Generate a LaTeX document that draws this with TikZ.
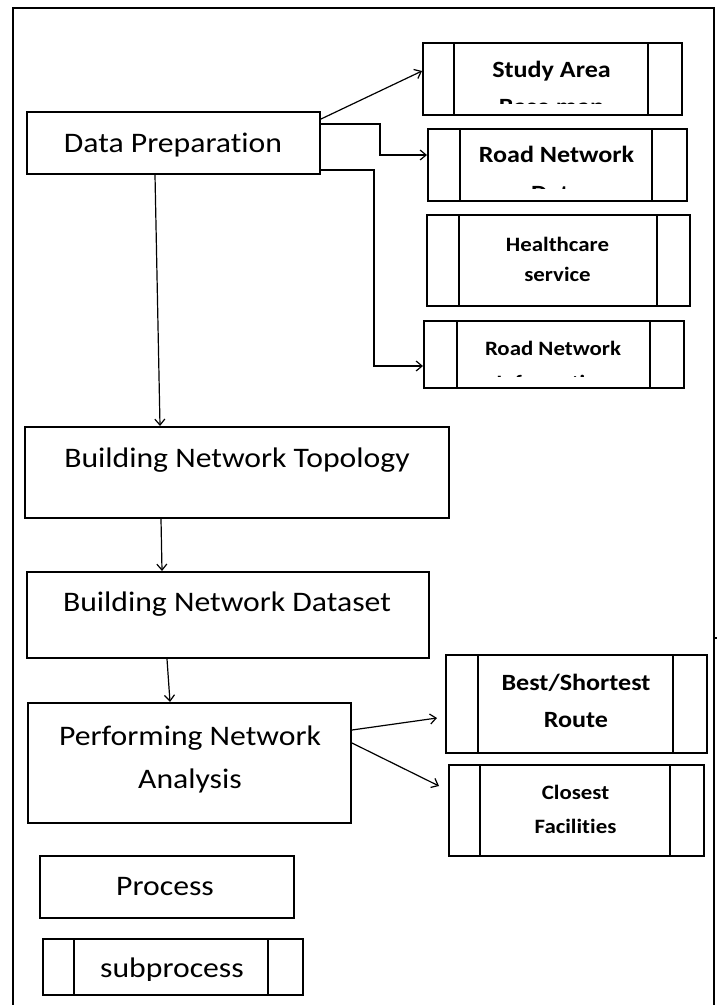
\documentclass[tikz,border=0pt]{standalone}
\usepackage{fontspec}
\setmainfont{Carlito}[FakeStretch=1.12,Ligatures=NoCommon]
\usetikzlibrary{arrows.meta,calc}
\tikzset{
 box/.style={draw=black, line width=2pt, anchor=north west, inner sep=0pt},
 innerline/.style={line width=2pt},
 conn/.style={line width=1.2pt, -{Straight Barb[length=6pt,width=10pt,line width=1.2pt]}},
 wire/.style={line width=1.2pt},
 rt/.style={anchor=base, inner sep=0pt, font=\fontsize{28.3}{34}\selectfont},
 bt/.style={anchor=base, inner sep=0pt, font=\fontsize{23.3}{28}\selectfont\bfseries},
 st/.style={anchor=base, inner sep=0pt, font=\fontsize{20.4}{25}\selectfont\bfseries},
 frame/.style={line width=2pt}
}
\begin{document}
\begin{tikzpicture}[x=1pt,y=-1pt]
\useasboundingbox (0,0) rectangle (717,1005);
\draw[frame] (13,1005) -- (13,8) -- (714,8) -- (714,1005);
\draw[wire] (714,638) -- (717,638);

% process boxes
\node[box, minimum width=293pt, minimum height=62pt] (dp) at (26,111) {};
\node[box, minimum width=424pt, minimum height=91pt] (bnt) at (24,426) {};
\node[box, minimum width=402pt, minimum height=86pt] (bnd) at (26,571) {};
\node[box, minimum width=323pt, minimum height=120pt] (pna) at (27,702) {};
\node[box, minimum width=254pt, minimum height=62pt] (proc) at (39,855) {};

% subprocess boxes
\node[box, minimum width=259pt, minimum height=72pt] (sa) at (422,42) {};
\node[box, minimum width=259pt, minimum height=72pt] (rn1) at (427,128) {};
\node[box, minimum width=263pt, minimum height=91pt] (hc) at (426,214) {};
\node[box, minimum width=260pt, minimum height=67pt] (rn2) at (423,320) {};
\node[box, minimum width=261pt, minimum height=98pt] (bsr) at (445,654) {};
\node[box, minimum width=255pt, minimum height=91pt] (cf) at (448,764) {};
\node[box, minimum width=260pt, minimum height=56pt] (subp) at (42,938) {};

\foreach \n/\a/\b in {sa/32/226, rn1/33/225, hc/33/231, rn2/34/227, bsr/33/228, cf/32/222, subp/32/226}{
  \draw[innerline] ([xshift=\a pt]\n.north west) -- ([xshift=\a pt]\n.south west);
  \draw[innerline] ([xshift=\b pt]\n.north west) -- ([xshift=\b pt]\n.south west);
}

% texts
\node[rt] (dpT) at (173,152) {Data Preparation};
\node[rt] (bntT) at (237,467) {Building Network Topology};
\node[rt] (bndT) at (227,611.7) {Building Network Dataset};
\node[rt] (pnaT1) at (190,745) {Performing Network};
\node[rt] (pnaT2) at (190,788) {Analysis};
\node[rt] (procT) at (165,895) {Process};
\begin{scope}
  \clip (42,938) rectangle (302,980);
  \node[rt] (subpT) at (172,977) {subprocess};
\end{scope}

\node[bt] (saT1) at (551.5,77) {Study Area};
\begin{scope}
  \clip (422,42) rectangle (681,103);
  \node[bt] (saT2) at (551.5,114) {Base map};
\end{scope}
\node[bt] (rn1T1) at (556.5,162.7) {Road Network};
\begin{scope}
  \clip (427,128) rectangle (686,188);
  \node[bt] (rn1T2) at (556.5,201) {Data};
\end{scope}
\node[st] (hcT1) at (557.5,251.7) {Healthcare};
\node[st] (hcT2) at (557.5,281.7) {service};
\node[st] (rn2T1) at (553,355) {Road Network};
\begin{scope}
  \clip (423,320) rectangle (683,376);
  \node[st] (rn2T2) at (553,389) {Information};
\end{scope}
\node[bt] (bsrT1) at (576,690) {Best/Shortest};
\node[bt] (bsrT2) at (576,727) {Route};
\node[st] (cfT1) at (575.5,799) {Closest};
\node[st] (cfT2) at (575.5,833) {Facilities};

% connectors
\draw[conn] ([yshift=-8pt]dp.north east) -- ([yshift=8pt]sa.west);
\draw[conn] ([yshift=-13pt]dp.north east) -- ++(59,0) |- ([yshift=10pt]rn1.west);
\draw[conn] ([yshift=5pt]dp.south east) -- ++(53,0) |- ([yshift=-11.5pt]rn2.west);
\draw[conn] ([xshift=129pt]dp.south west) -- ([xshift=136pt]bnt.north west);
\draw[conn] ([xshift=137pt]bnt.south west) -- ([xshift=136pt]bnd.north west);
\draw[conn] ([xshift=141pt]bnd.south west) -- ([xshift=143pt]pna.north west);
\draw[conn] ([yshift=-28pt]pna.north east) -- ([xshift=-8pt,yshift=-14pt]bsr.west);
\draw[conn] ([yshift=20pt]pna.east) -- ([xshift=-9pt,yshift=24.5pt]cf.west);
\end{tikzpicture}
\end{document}
